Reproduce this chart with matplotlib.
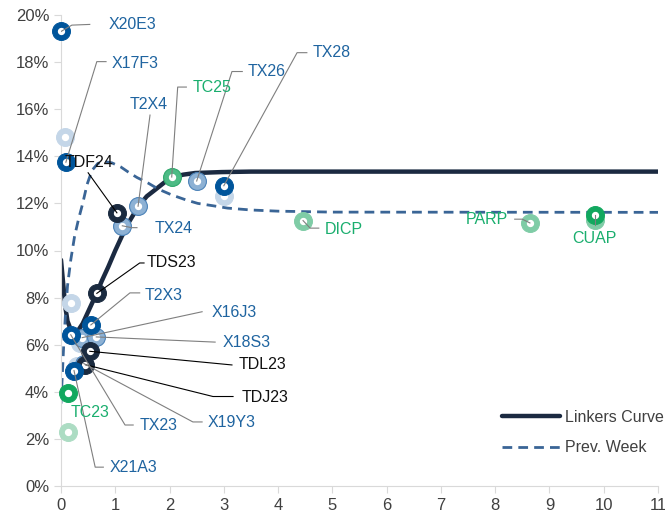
import matplotlib
matplotlib.use("Agg")
import matplotlib.pyplot as plt
from matplotlib.ticker import FuncFormatter

plt.rcParams['font.family'] = ['Liberation Sans', 'DejaVu Sans']

# curves (maturity in years, yield in %)
curve_x = [0.0, 0.04, 0.08, 0.12, 0.17, 0.22, 0.30, 0.40, 0.50, 0.60, 0.66, 0.75, 0.87,
           1.00, 1.12, 1.25, 1.42, 1.58, 1.73, 1.90, 2.04, 2.25, 2.47, 2.96, 3.50, 4.0, 11.0]
curve_y = [9.6, 8.6, 7.6, 7.0, 6.7, 6.55, 6.55, 6.9, 7.4, 7.9, 8.2, 8.7, 9.3,
           10.0, 10.6, 11.2, 11.85, 12.3, 12.57, 12.88, 13.1, 13.22, 13.29, 13.33, 13.35, 13.35, 13.35]

prev_x = [0.0, 0.02, 0.05, 0.08, 0.12, 0.18, 0.25, 0.32, 0.40, 0.48, 0.57, 0.68, 0.80, 0.94,
          1.10, 1.24, 1.40, 1.60, 1.80, 2.04, 2.30, 2.52, 2.80, 3.07, 3.50, 4.0, 5.0, 11.0]
prev_y = [3.5, 4.5, 6.0, 7.2, 8.5, 9.6, 10.6, 11.3, 12.0, 12.8, 13.4, 13.7, 13.78, 13.72,
          13.55, 13.33, 13.1, 12.87, 12.6, 12.36, 12.15, 12.0, 11.9, 11.8, 11.72, 11.67, 11.63, 11.62]

# bonds
names = ["X20E3", "X17F3", "TDF24", "T2X4", "TX24", "TC25", "TX26", "TX28", "DICP", "PARP",
         "CUAP", "TDS23", "T2X3", "X16J3", "X18S3", "TDL23", "TDJ23", "X19Y3", "TX23", "X21A3", "TC23"]
ttm = [0.0, 0.09, 1.03, 1.42, 1.13, 2.04, 2.50, 3.0, 4.46, 8.64,
       9.83, 0.66, 0.55, 0.39, 0.65, 0.53, 0.45, 0.42, 0.18, 0.24, 0.13]
ytm = [19.3, 13.75, 11.6, 11.88, 11.05, 13.12, 12.95, 12.75, 11.27, 11.17,
       11.5, 8.18, 6.84, 6.3, 6.33, 5.72, 5.15, 5.2, 6.42, 4.9, 3.97]
group = ["dark", "dark", "navy", "mid", "mid", "mgreen", "mid", "dark", "lgreen", "lgreen",
         "green", "navy", "dark", "mid", "mid", "navy", "navy", "mid", "dark", "dark", "green"]

# unlabeled (previous positions)
old_x = [0.07, 3.0, 0.18, 0.35, 0.29, 0.13, 9.83]
old_y = [14.8, 12.3, 7.75, 6.07, 5.1, 2.28, 11.3]
old_group = ["pale", "pale", "pale", "pale", "pale", "pgreen", "lgreen"]

colors = {"dark": "#00559b", "navy": "#1b2b40", "mid": "#8db1d4", "pale": "#c4d6e8",
          "green": "#12a85f", "mgreen": "#4dbb85", "lgreen": "#7fcca6", "pgreen": "#acdcc3"}
edges = {"mid": "#4b82b8", "mgreen": "#2fa86c"}
order = {"pale": 0, "pgreen": 0, "lgreen": 1, "mid": 1, "mgreen": 2, "dark": 3, "navy": 3, "green": 3}

BLUE = "#1f64a0"
GREEN = "#1aae6e"
BLACK = "#111111"

# label positions and leader elbows
labels = {
    "X20E3": ((0.87, 19.6), "left", BLUE, [(0.2, 19.57), (0.53, 19.6)]),
    "X17F3": ((0.94, 17.96), "left", BLUE, [(0.66, 18.02), (0.83, 18.02)]),
    "TDF24": ((0.07, 13.75), "left", BLACK, [(0.5, 13.3)]),
    "T2X4": ((1.27, 16.2), "left", BLUE, [(1.64, 15.75)]),
    "TX24": ((1.73, 10.95), "left", BLUE, [(1.3, 10.97), (1.4, 10.97)]),
    "TC25": ((2.43, 16.94), "left", GREEN, [(2.15, 16.94), (2.31, 16.94)]),
    "TX26": ((3.44, 17.6), "left", BLUE, [(3.15, 17.6), (3.34, 17.6)]),
    "TX28": ((4.64, 18.4), "left", BLUE, [(4.35, 18.4), (4.53, 18.4)]),
    "DICP": ((4.86, 10.9), "left", GREEN, [(4.59, 10.95), (4.75, 10.95)]),
    "PARP": ((8.23, 11.33), "right", GREEN, [(8.5, 11.33), (8.36, 11.33)]),
    "CUAP": ((9.83, 10.5), "center", GREEN, [(9.83, 11.1)]),
    "TDS23": ((1.58, 9.47), "left", BLACK, [(1.45, 9.47), (1.53, 9.47)]),
    "T2X3": ((1.55, 8.07), "left", BLUE, [(1.27, 8.2), (1.45, 8.2)]),
    "X16J3": ((2.78, 7.35), "left", BLUE, [(2.6, 7.4)]),
    "X18S3": ((2.98, 6.11), "left", BLUE, [(2.84, 6.11)]),
    "TDL23": ((3.28, 5.14), "left", BLACK, [(3.15, 5.14)]),
    "TDJ23": ((3.33, 3.74), "left", BLACK, [(2.8, 3.8), (3.17, 3.8)]),
    "X19Y3": ((2.71, 2.68), "left", BLUE, [(2.43, 2.72), (2.6, 2.72)]),
    "TX23": ((1.45, 2.55), "left", BLUE, [(1.18, 2.59), (1.33, 2.59)]),
    "X21A3": ((0.9, 0.8), "left", BLUE, [(0.63, 0.8), (0.78, 0.8)]),
    "TC23": ((0.17, 3.14), "left", GREEN, []),
}

fig = plt.figure(figsize=(6.65, 5.18), dpi=100)
ax = fig.add_axes([61/665, 32/518, 597/665, 471/518])

ax.plot(curve_x, curve_y, color="#1b2a41", lw=3.2, solid_capstyle="round", zorder=2, label="Linkers Curve")
ax.plot(prev_x, prev_y, color="#3a6596", lw=2.0, ls=(0, (3.5, 2.2)), zorder=2, label="Prev. Week")

# markers: ring + white centre
pts = list(zip(old_x, old_y, old_group)) + list(zip(ttm, ytm, group))
pts.sort(key=lambda p: order[p[2]])
for i, (x, y, g) in enumerate(pts):
    ax.scatter(x, y, s=165, color=colors[g], edgecolors=edges.get(g, colors[g]),
               linewidths=0.8, zorder=3 + i * 0.01, clip_on=False)
    ax.scatter(x, y, s=18, color="white", zorder=3.005 + i * 0.01, clip_on=False)

# labels and leaders
for name, x, y in zip(names, ttm, ytm):
    (tx, ty), ha, col, path = labels[name]
    if path:
        lx = [x] + [p[0] for p in path]
        ly = [y] + [p[1] for p in path]
        lc = "black" if col == BLACK else "#7f7f7f"
        ax.plot(lx, ly, color=lc, lw=0.8, zorder=5)
    ax.text(tx, ty, name, color=col, fontsize=11.5, ha=ha, va="center", zorder=6)

ax.set_xlim(0, 11)
ax.set_ylim(0, 20)
ax.set_xticks(range(0, 12))
ax.set_yticks(range(0, 21, 2))
ax.yaxis.set_major_formatter(FuncFormatter(lambda v, p: f"{v:.0f}%"))
for s in ["top", "right"]:
    ax.spines[s].set_visible(False)
for s in ["left", "bottom"]:
    ax.spines[s].set_color("#d9d9d9")
ax.tick_params(colors="#d9d9d9", labelcolor="#404040", labelsize=12, length=5)

ax.legend(loc="lower left", bbox_to_anchor=(0.715, 0.035), frameon=False, fontsize=11.5,
          handlelength=3.6, handletextpad=0.3, labelspacing=0.95, labelcolor="#404040")

fig.savefig("out.png", dpi=100)
